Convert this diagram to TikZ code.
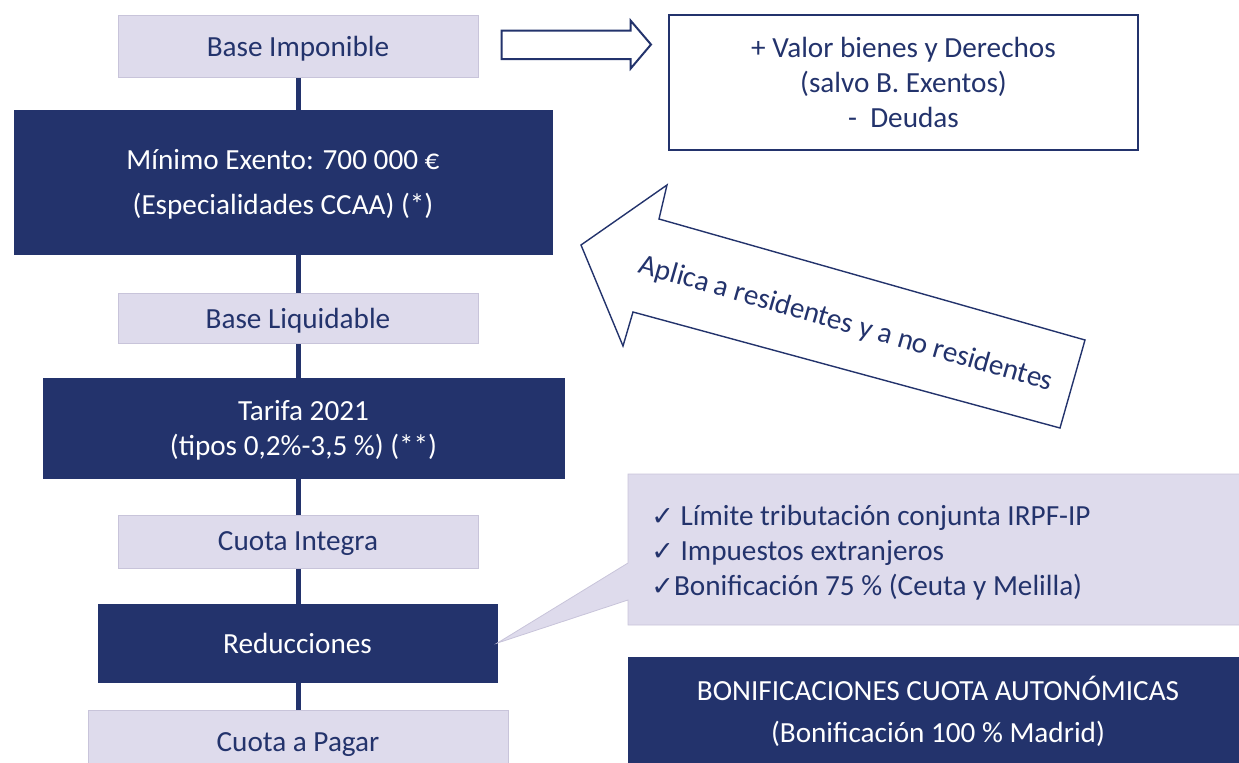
\documentclass[tikz,border=0pt]{standalone}
\usepackage{fontspec}
\setmainfont{Carlito}
\newfontfamily\symfont{DejaVu Sans}
\usetikzlibrary{backgrounds}
\definecolor{navy}{RGB}{35,51,108}
\definecolor{lav}{RGB}{222,219,236}
\definecolor{lavedge}{RGB}{200,196,218}
\begin{document}
\begin{tikzpicture}[x=0.5pt,y=-0.5pt,
  basefont/.style={font=\fontsize{14.6}{17.5}\selectfont},
  lightbox/.style={basefont, fill=lav, draw=lavedge, line width=0.4pt, text=navy, inner sep=0pt, align=center, text depth=0pt},
  darkbox/.style={basefont, fill=navy, draw=navy, text=white, inner sep=0pt, align=center},
  spine/.style={draw=navy, line width=2.5pt},
  outline/.style={draw=navy, line width=1pt, fill=white},
  chk/.style={}]
\useasboundingbox (0,0) rectangle (1239,762);
\clip (0,0) rectangle (1239,762);

% left column
\node[lightbox, minimum width=180pt, minimum height=31pt] (bi) at (298,46) {Base Imponible};
\node[darkbox, text depth=0pt, minimum width=269pt, minimum height=72pt, font=\fontsize{14.6}{22.5}\selectfont] (me) at (283,182) {Mínimo Exento: 700 000 €\\(Especialidades CCAA) (*)};
\node[lightbox, minimum width=180pt, minimum height=25pt] (bl) at (298,318) {Base Liquidable};
\node[darkbox, text depth=0pt, minimum width=260.5pt, minimum height=50pt] (ta) at (303.5,428) {Tarifa 2021\\(tipos 0,2\%-3,5 \%) (**)};
\node[lightbox, minimum width=180pt, minimum height=26.5pt] (ci) at (298,541.5) {Cuota Integra};
\node[darkbox, text depth=0pt, minimum width=199.5pt, minimum height=39pt] (red) at (297.5,643) {Reducciones};
\node[lightbox, minimum width=210pt, minimum height=32pt] (cp) at (298,742) {Cuota a Pagar};

\begin{scope}[on background layer]
  \draw[spine] (bi.south) -- (bi.south |- cp.north);
\end{scope}

% top right
\draw[outline] (501.7,30.7) -- (630.7,30.7) -- (630.7,20.7) -- (651,44.5) -- (630.7,68.5) -- (630.7,59) -- (501.7,59) -- cycle;
\node[outline, basefont, text=navy, minimum width=234.5pt, minimum height=67.5pt, align=center, inner sep=0pt] (vb) at (903.5,82.5) {+ Valor bienes y Derechos\\(salvo B. Exentos)\\-\ \ Deudas};

% big arrow
\draw[draw=navy, line width=0.7pt, fill=white] (581,245) -- (667,185) -- (659,219) -- (1085,340) -- (1060,428) -- (633,312) -- (623,346) -- cycle;
\node[basefont, text=navy, rotate=-16, inner sep=0pt] (ap) at (846,324) {Aplica a residentes y a no residentes};

% callout
\path[fill=lav, draw=lavedge, line width=0.4pt] (628,474) -- (1245,474) -- (1245,625) -- (628,625) -- (628,600) -- (red.east) -- (628,563) -- cycle;
\node[basefont, anchor=west, align=left, text=navy, inner sep=0pt, text depth=0pt] (cl) at (651,550)
  {{\symfont\fontsize{13.5}{14}\selectfont ✓} Límite tributación conjunta IRPF-IP\\
   {\symfont\fontsize{13.5}{14}\selectfont ✓} Impuestos extranjeros\\
   {\symfont\fontsize{13.5}{14}\selectfont ✓}Bonificación 75 \% (Ceuta y Melilla)};

% bottom right
\node[darkbox, minimum width=310pt, minimum height=54pt, font=\fontsize{14.6}{21}\selectfont] (bo) at (938,711) {BONIFICACIONES CUOTA AUTONÓMICAS\\(Bonificación 100 \% Madrid)};
\end{tikzpicture}
\end{document}
